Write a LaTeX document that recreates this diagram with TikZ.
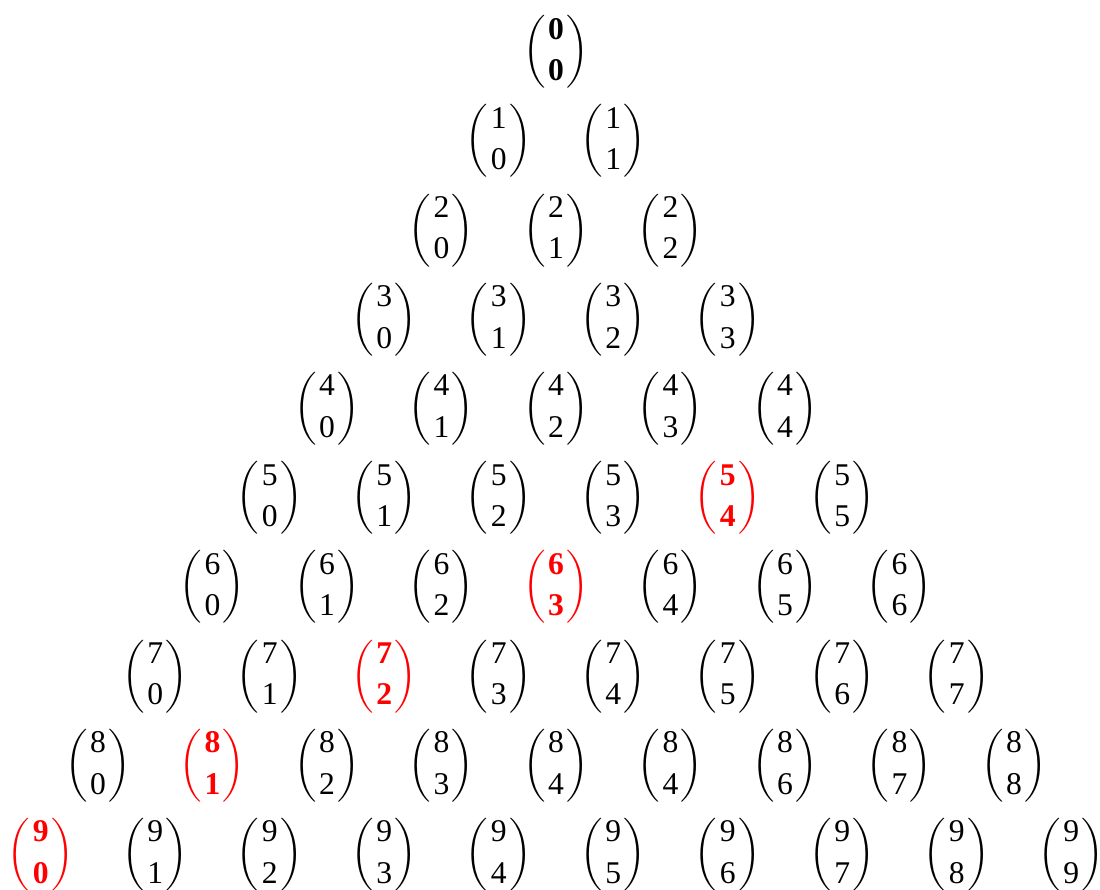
\documentclass[tikz,border=0pt]{standalone}
\usepackage{amsmath}
\usepackage{fontspec}
\setmainfont{Liberation Serif}
\usepackage{tikz}
\usetikzlibrary{positioning}

\newcommand{\bnm}[2]{$\displaystyle\binom{\mkern1.5mu\text{#1}\mkern1.5mu}{\mkern1.5mu\text{#2}\mkern1.5mu}$}

\begin{document}
\begin{tikzpicture}[
			x=0.02cm, y=-0.02cm,
			every node/.style={font=\fontsize{18}{21}\selectfont, inner sep=0pt},
			coef/.style={text=black},
			apex/.style={text=black, font=\fontsize{18}{21}\selectfont\bfseries},
			hilite/.style={text=red, font=\fontsize{18}{21}\selectfont\bfseries}
			]
			
			\useasboundingbox (0,0) rectangle (1100,890);
			
			% Triangulo de coeficientes
			\foreach \n in {0,...,9}{
				\foreach \k in {0,...,\n}{
					\pgfmathtruncatemacro{\s}{\n+\k}
					\pgfmathtruncatemacro{\lbl}{(\n==8 && \k==5) ? 4 : \k}
					\def\sty{coef}
					\ifnum\s=9 \ifnum\n>4 \def\sty{hilite}\fi\fi
					\ifnum\n=0 \def\sty{apex}\fi
					\node[\sty] (b-\n-\k) at ({556+(2*\k-\n)*57.25},{52+\n*89.2}) {\bnm{\n}{\lbl}};
				}
			}
			
		\end{tikzpicture}
\end{document}
